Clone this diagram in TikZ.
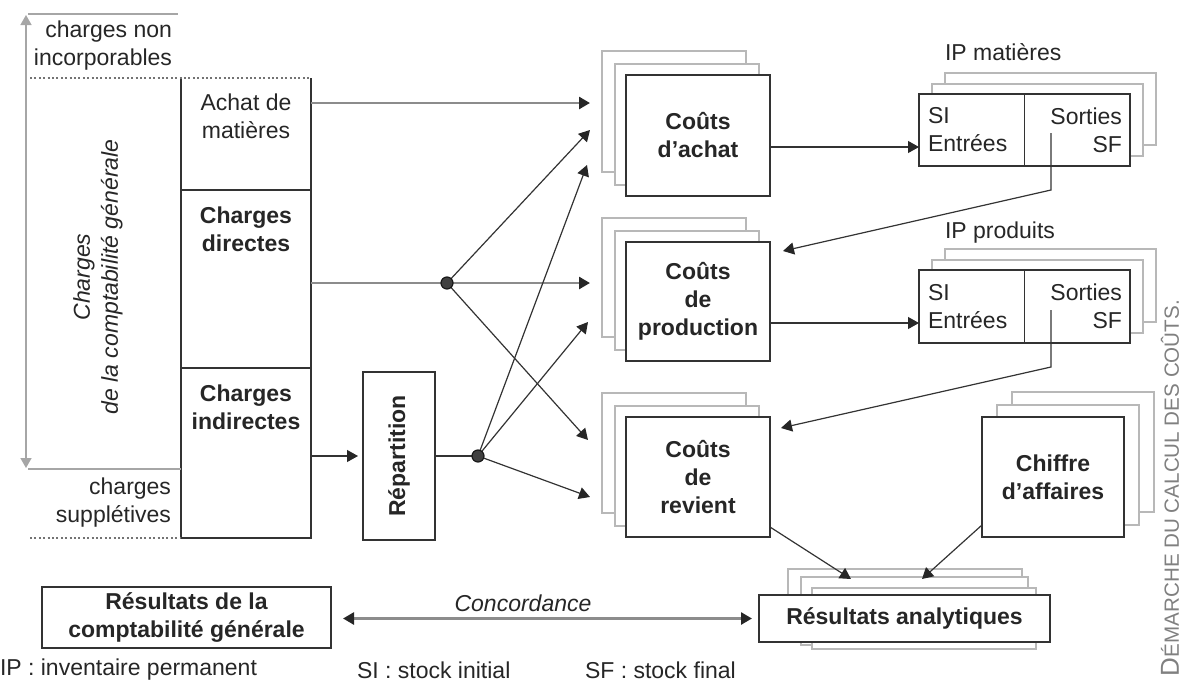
\documentclass[tikz,border=0pt]{standalone}
\usepackage{fontspec}
\setmainfont{Liberation Sans}
\usetikzlibrary{arrows.meta,backgrounds,calc}

\begin{document}
\begin{tikzpicture}[x=0.5pt,y=0.5pt,yscale=-1,
	every node/.style={font=\fontsize{11.5}{14}\selectfont, inner sep=0pt, outer sep=0pt, text=black!85},
	bold/.style={font=\fontsize{11.5}{14}\selectfont\bfseries},
	slant/.style={font=\fontsize{11.5}{14}\selectfont\itshape},
	box/.style={draw=black!80, line width=0.7pt, fill=white},
	back/.style={draw=black!28, line width=0.7pt, fill=white},
	edge/.style={draw=black!80, line width=0.7pt},
	dots/.style={draw=black!55, line width=0.6pt, dash pattern=on 1pt off 1.2pt},
	tip/.style={-{Triangle[length=5.5pt,width=6pt,color=black!85]}},
	link/.style={tip, draw=black!80, line width=0.6pt},
	flow/.style={tip, draw=black!45, line width=1.3pt},
	bracket/.style={draw=black!35, line width=0.8pt},
	knot/.style={circle, draw=black!90, fill=black!75, line width=0.6pt, minimum size=6pt}
]
	\useasboundingbox (0,0) rectangle (1191,681);

	\node [minimum width=65pt, minimum height=56pt] (achat) at (246,134) {};
	\draw [edge] (achat.north west) -- (achat.south west) -- (achat.south east) -- (achat.north east);
	\node [box, minimum width=65pt, minimum height=89pt] (directes) at (246,279) {};
	\node [box, minimum width=65pt, minimum height=85pt] (indirectes) at (246,453) {};
	\node [anchor=north, align=center] (achat-t) at ([yshift=8pt]achat.north) {Achat de\\matières};
	\node [anchor=north, align=center, bold] (directes-t) at ([yshift=8.5pt]directes.north) {Charges\\directes};
	\node [anchor=north, align=center, bold] (indirectes-t) at ([yshift=8.5pt]indirectes.north) {Charges\\indirectes};

	\draw [dots] (30,78) -- (achat.north east);
	\draw [dots] (30,538) -- (indirectes.south west);
	\draw [bracket, {Triangle[length=5pt,width=5.5pt]}-{Triangle[length=5pt,width=5.5pt]}] (26,15) -- (26,468);
	\draw [bracket] (28,14) -- (178,14);
	\draw [bracket] (28,469) -- (indirectes.west |- 0,469);
	\node [anchor=east, align=right] (nonincorp) at (172,46) {charges non\\incorporables};
	\node [anchor=east, align=right] (suppl) at (171,503) {charges\\supplétives};
	\node [rotate=90, align=center, slant] (cg) at (98,277) {Charges\\de la comptabilité générale};

	\node [box, minimum width=36pt, minimum height=84pt] (rep) at (399,456) {};
	\node [rotate=90, bold] (rep-t) at (rep.center) {Répartition};

	\node [box, minimum width=72pt, minimum height=60.5pt, align=center, bold] (ca) at (698,135.5) {Coûts\\d'achat};
	\node [box, minimum width=72pt, minimum height=59.5pt, align=center, bold] (cp) at (698,301.5) {Coûts\\de\\production};
	\node [box, minimum width=72pt, minimum height=60pt, align=center, bold] (cr) at (698,477) {Coûts\\de\\revient};
	\node [box, minimum width=71pt, minimum height=60pt, align=center, bold] (chiffre) at (1053,477) {Chiffre\\d'affaires};

	\node [box, minimum width=105.5pt, minimum height=36pt] (ipm) at (1024.5,130) {};
	\node [box, minimum width=105.5pt, minimum height=36.5pt] (ipp) at (1024.5,306.5) {};
	\foreach \ip in {ipm,ipp} {
		\draw [edge] (\ip.north) -- (\ip.south);
		\node [anchor=west, align=left] (\ip-l) at ([xshift=4.5pt]\ip.west) {SI\\Entrées};
		\node [anchor=east, align=right] (\ip-r) at ([xshift=-4pt]\ip.east) {Sorties\\SF};
	}
	\node [anchor=west] (ipm-name) at (945,52) {IP matières};
	\node [anchor=west] (ipp-name) at (945,233) {IP produits};

	\node [box, minimum width=145.5pt, minimum height=23.5pt, bold] (res) at (904.5,618.5) {Résultats analytiques};
	\node [box, minimum width=144.5pt, minimum height=30.5pt, align=center, bold] (rcg) at (186.5,617.5) {Résultats de la\\comptabilité générale};

	\begin{scope}[on background layer]
		\foreach \n in {ca,cp,cr}
			\foreach \d in {24,11}
				\draw [back] ($(\n.north west)+(-\d,-\d)$) rectangle ($(\n.south east)+(-\d,-\d)$);
		\foreach \dx/\dy in {30/25,15/12}
			\draw [back] ($(chiffre.north west)+(\dx,-\dy)$) rectangle ($(chiffre.south east)+(\dx,-\dy)$);
		\foreach \n in {ipm,ipp}
			\foreach \dx/\dy in {26/21,13/10}
				\draw [back] ($(\n.north west)+(\dx,-\dy)$) rectangle ($(\n.south east)+(\dx,-\dy)$);
		\draw [back] (788,569) rectangle (1022,640);
		\draw [back] (801,577) rectangle (1028,645);
		\draw [back] (812,588) rectangle (1036,649);
	\end{scope}

	\coordinate (k1) at (447,283);
	\coordinate (k2) at (478,456);
	\coordinate (ca-in1) at (590,103);
	\coordinate (ca-in2) at (590,130);
	\coordinate (ca-in3) at (587,165);
	\coordinate (cp-in1) at (590,283);
	\coordinate (cp-in2) at (588,322);
	\coordinate (cr-in1) at (588,440);
	\coordinate (cr-in2) at (590,497);
	\draw [flow] (achat.east |- ca-in1) -- (ca-in1);
	\draw [flow, -] (directes.east |- k1) -- (k1);
	\draw [flow] (k1) -- (cp-in1);
	\draw [link] (k1) -- (ca-in2);
	\draw [link] (k1) -- (cr-in1);
	\draw [link, shorten >=2.5pt] (indirectes.east |- rep) -- (rep.west);
	\draw [link, -] (rep.east) -- (k2);
	\draw [link] (k2) -- (ca-in3);
	\draw [link] (k2) -- (cp-in2);
	\draw [link] (k2) -- (cr-in2);
	\node [knot] (k1-dot) at (k1) {};
	\node [knot] (k2-dot) at (k2) {};

	\draw [link] (ca.east |- 0,147) -- (ipm.west |- 0,147);
	\draw [link] (cp.east |- 0,323) -- (ipp.west |- 0,323);
	\coordinate (ipm-out) at (1051,133);
	\coordinate (ipm-bend) at (1051,190);
	\coordinate (cp-ret) at (783,251);
	\coordinate (ipp-out) at (1051,310);
	\coordinate (ipp-bend) at (1051,367);
	\coordinate (cr-ret) at (781,428);
	\draw [link] (ipm-out) -- (ipm-bend) -- (cp-ret);
	\draw [link] (ipp-out) -- (ipp-bend) -- (cr-ret);

	\coordinate (res-in1) at (851,579);
	\coordinate (res-in2) at (922,579);
	\draw [link] ([yshift=-5pt]cr.south east) -- (res-in1);
	\draw [link] ([yshift=-6pt]chiffre.south west) -- (res-in2);

	\draw [flow, {Triangle[length=5.5pt,width=6pt,color=black!85]}-{Triangle[length=5.5pt,width=6pt,color=black!85]}] ($(rcg.east |- res.west)+(12,0)$) -- ($(res.west)+(-7,0)$);
	\node [slant] (conc) at (523,603) {Concordance};

	\node [anchor=west] (f-ip) at (0,670) {IP : inventaire permanent};
	\node [anchor=west] (f-si) at (357,670) {SI : stock initial};
	\node [anchor=west] (f-sf) at (585,670) {SF : stock final};

	\node [rotate=90, anchor=west, text=black!50] (caption) at (1170,676) {\fontsize{13}{13}\selectfont D\fontsize{10.3}{11}\selectfont ÉMARCHE DU CALCUL DES COÛTS.};
\end{tikzpicture}
\end{document}
